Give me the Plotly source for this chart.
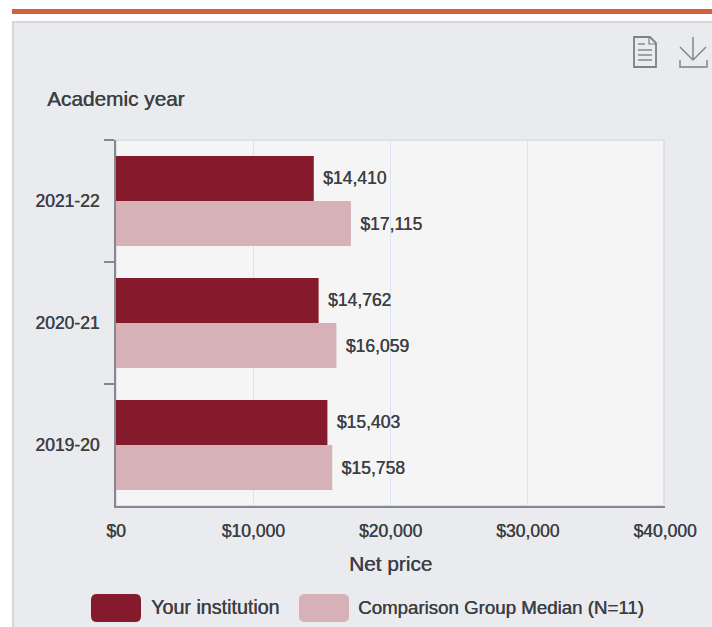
import plotly.graph_objects as go

W, H = 712, 627
years = ["2021-22", "2020-21", "2019-20"]
institution = [14410, 14762, 15403]
comparison = [17115, 16059, 15758]
series_names = ["Your institution", "Comparison Group Median (N=11)"]
colors = ["#841a2c", "#d6b2b8"]
x_ticks = [0, 10000, 20000, 30000, 40000]
x_labels = ["$0", "$10,000", "$20,000", "$30,000", "$40,000"]

FONT = "Liberation Sans"
TXT = "#3c3f44"
SHADOW = "0.4px 0 0.5px #3c3f44"
L, R, T, B = 116, 665, 140, 506


def path_px(d):
    out, is_x = [], True
    for tok in d.split():
        try:
            v = float(tok)
        except ValueError:
            out.append(tok)
            continue
        out.append(f"{(v - L) / (R - L):.5f}" if is_x else f"{(B - v) / (B - T):.5f}")
        is_x = not is_x
    return " ".join(out)


def rect(x0, y0, x1, y1, fill, line=None, width=0):
    return dict(type="rect", xref="paper", yref="paper", layer="below",
                x0=(x0 - L) / (R - L), x1=(x1 - L) / (R - L),
                y0=(B - y0) / (B - T), y1=(B - y1) / (B - T),
                fillcolor=fill, line=dict(color=line or fill, width=width))


def path(d, fill="rgba(0,0,0,0)", line="#7d8084", width=1.5, layer="above"):
    return dict(type="path", xref="paper", yref="paper", layer=layer,
                path=path_px(d), fillcolor=fill, line=dict(color=line, width=width))


def rounded(x0, y0, x1, y1, r):
    return (f"M {x0+r} {y0} L {x1-r} {y0} Q {x1} {y0} {x1} {y0+r} L {x1} {y1-r} "
            f"Q {x1} {y1} {x1-r} {y1} L {x0+r} {y1} Q {x0} {y1} {x0} {y1-r} "
            f"L {x0} {y0+r} Q {x0} {y0} {x0+r} {y0} Z")


shapes = [
    rect(12, 9, 716, 14, "#d0603e"),
    rect(13, 22, 720, 640, "#e9ebef", "#d6d6d6", 2),
    rect(L, T, R - 1, B, "#f5f5f5", "#dfe1e4", 2),
    path(rounded(91, 594, 141, 622, 6), fill=colors[0], line=colors[0], width=0),
    path(rounded(299, 594, 349, 622, 6), fill=colors[1], line=colors[1], width=0),
    # document icon
    path("M 634 37 L 650 37 L 656 43 L 656 67 L 634 67 Z", width=1.8),
    path("M 649 37 L 649 44 L 656 44", width=1.2),
    path("M 638 44 L 645 44", width=1.4),
    path("M 638 50 L 652 50", width=1.4),
    path("M 638 55 L 652 55", width=1.4),
    path("M 638 60 L 652 60", width=1.4),
    # download icon
    path("M 693 37 L 693 60", width=1.4),
    path("M 680 47 L 693 60 L 706 47", width=1.4),
    path("M 680 60 L 680 67 L 707 67 L 707 60", width=1.4),
]

fig = go.Figure()
for name, vals, col in zip(series_names, [institution, comparison], colors):
    fig.add_trace(go.Bar(
        y=years, x=vals, name=name, orientation="h",
        marker=dict(color=col, line=dict(width=0)),
        text=[f"\u00a0\u200a${v:,}" for v in vals],
        textposition="outside", cliponaxis=False,
        textfont=dict(family=FONT, size=17.5, color=TXT, shadow=SHADOW),
    ))

labels = [("Academic year", 45, 98, "left", 20.8),
          ("Net price", 390.5, 563, "center", 20.8),
          (series_names[0], 149, 607, "left", 19.7),
          (series_names[1], 356, 607, "left", 18.7)]
anns = [dict(text=t, xref="paper", yref="paper",
             x=(x - L) / (R - L), y=(B - y) / (B - T),
             xanchor=a, yanchor="middle", showarrow=False,
             font=dict(family=FONT, size=s, color=TXT, shadow=SHADOW))
        for t, x, y, a, s in labels]

tick_font = dict(family=FONT, size=17.5, color=TXT, shadow=SHADOW)
fig.update_layout(
    width=W, height=H,
    margin=dict(l=L, r=W - R, t=T, b=H - B, pad=0),
    paper_bgcolor="#ffffff", plot_bgcolor="rgba(0,0,0,0)",
    barmode="group", bargap=0.262, bargroupgap=0,
    showlegend=False, shapes=shapes, annotations=anns,
    font=dict(family=FONT, size=17.5, color=TXT),
    xaxis=dict(range=[0, 40000], tickvals=x_ticks, ticktext=x_labels, showgrid=True,
               gridcolor="#dbe3f0", gridwidth=1, zeroline=False, showline=True,
               linecolor="#85888c", linewidth=2, ticks="", ticklabelstandoff=8,
               tickfont=tick_font),
    yaxis=dict(type="category", autorange="reversed", categoryorder="array",
               categoryarray=years, tickson="boundaries", ticks="outside", ticklen=10,
               tickwidth=1.5, tickcolor="#85888c", showline=True, linecolor="#85888c",
               linewidth=2, showgrid=False, zeroline=False, ticklabelstandoff=11,
               tickfont=tick_font),
)
fig.write_html("out.html", config=dict(displayModeBar=False),
               post_script="document.body.style.margin='0';document.documentElement.style.overflow='hidden';")
